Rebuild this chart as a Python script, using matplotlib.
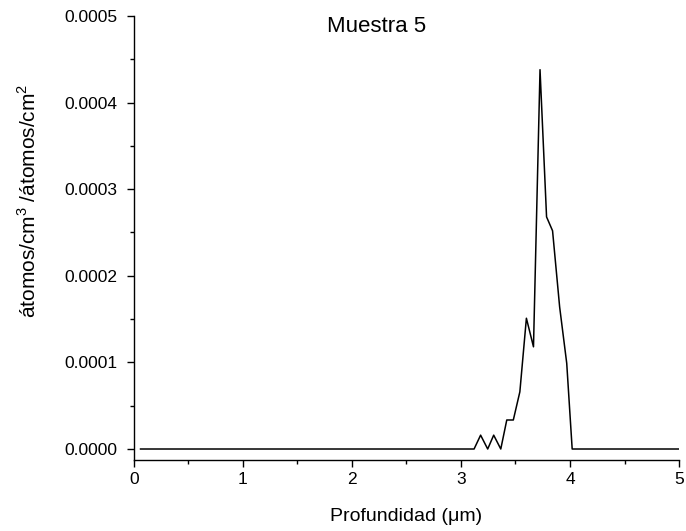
import numpy as np
import matplotlib.pyplot as plt
from matplotlib.ticker import MultipleLocator, FormatStrFormatter

plt.rcParams['font.family'] = ['Liberation Sans', 'DejaVu Sans']
plt.rcParams['mathtext.fontset'] = 'custom'
plt.rcParams['mathtext.rm'] = 'Liberation Sans'

# profundidad (um) y concentracion normalizada
profundidad = [0.06, 3.12, 3.18, 3.245, 3.30, 3.365, 3.42, 3.48, 3.54, 3.60,
               3.665, 3.725, 3.785, 3.84, 3.905, 3.97, 4.02, 5.0]
concentracion = [0.0, 0.0, 1.6e-5, 0.0, 1.6e-5, 0.0, 3.35e-5, 3.35e-5, 6.6e-5, 1.51e-4,
                 1.18e-4, 4.38e-4, 2.68e-4, 2.52e-4, 1.64e-4, 9.9e-5, 0.0, 0.0]

fig = plt.figure(figsize=(6.86, 5.31), dpi=100)
ax = fig.add_axes([0.1953, 0.1337, 0.7945, 0.8362])

ax.plot(profundidad, concentracion, color='black', linewidth=1.1)

ax.set_xlim(0, 5)
ax.set_ylim(-1.27e-5, 0.0005)
ax.xaxis.set_major_locator(MultipleLocator(1))
ax.xaxis.set_minor_locator(MultipleLocator(0.5))
ax.yaxis.set_major_locator(MultipleLocator(0.0001))
ax.yaxis.set_minor_locator(MultipleLocator(0.00005))
ax.yaxis.set_major_formatter(FormatStrFormatter('%.4f'))

for s in ['top', 'right']:
    ax.spines[s].set_visible(False)
for s in ['left', 'bottom']:
    ax.spines[s].set_linewidth(1.0)

ax.tick_params(which='major', direction='out', length=5, width=1, labelsize=12.5)
ax.tick_params(which='minor', direction='out', length=3, width=1)
ax.tick_params(axis='y', which='major', pad=7)

ax.set_xlabel('Profundidad (\u03bcm)', fontsize=14, labelpad=15)
ax.set_ylabel('átomos/cm$^3$ /átomos/cm$^2$', fontsize=15)
ax.yaxis.set_label_coords(-0.172, 0.583)

ax.text(2.23, 0.000488, 'Muestra 5', fontsize=16, ha='center', va='center')

fig.savefig('out.png', dpi=100)
